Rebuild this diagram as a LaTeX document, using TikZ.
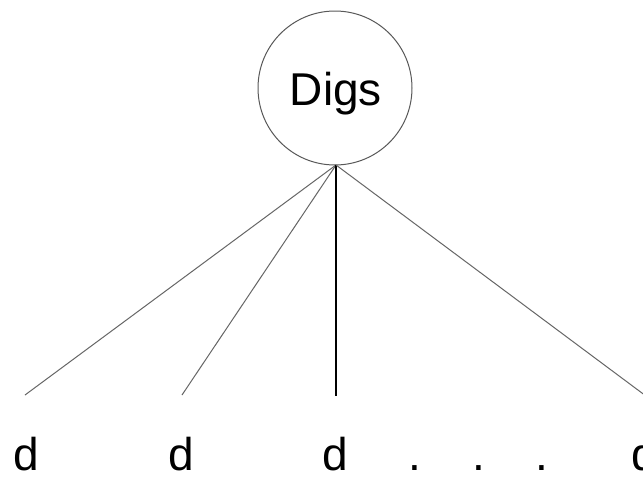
\documentclass[tikz,border=0pt]{standalone}
\usepackage{fontspec}
\setmainfont{Liberation Sans}
\begin{document}
\begin{tikzpicture}[x=1pt,y=-1pt,
  lbl/.style={inner sep=0pt,font=\fontsize{46}{46}\selectfont},
  thinedge/.style={draw=black!60,line width=1pt},
  thickedge/.style={draw=black,line width=2pt}]
\useasboundingbox[fill=white] (0,0) rectangle (643,477);
\clip (0,0) rectangle (643,477);
\node[draw=black!65,line width=1pt,circle,minimum size=154pt,inner sep=0pt] (root) at (335,88) {};
\node[lbl,anchor=base] (rt) at (336,105) {Digs};
\coordinate (hub) at (336,165);
\coordinate (e1) at (25,395);
\coordinate (e2) at (182,395);
\coordinate (e3) at (336,396);
\coordinate (e4) at (650,399);
\draw[thinedge] (hub) -- (e1);
\draw[thinedge] (hub) -- (e2);
\draw[thickedge] (hub) -- (e3);
\draw[thinedge] (hub) -- (e4);
\node[lbl,anchor=base] (d1) at (26,470) {d};
\node[lbl,anchor=base] (d2) at (181,470) {d};
\node[lbl,anchor=base] (d3) at (335,470) {d};
\node[lbl,anchor=base] (p1) at (415,470) {.};
\node[lbl,anchor=base] (p2) at (479,470) {.};
\node[lbl,anchor=base] (p3) at (542,470) {.};
\node[lbl,anchor=base] (d4) at (644,470) {d};
\end{tikzpicture}
\end{document}
